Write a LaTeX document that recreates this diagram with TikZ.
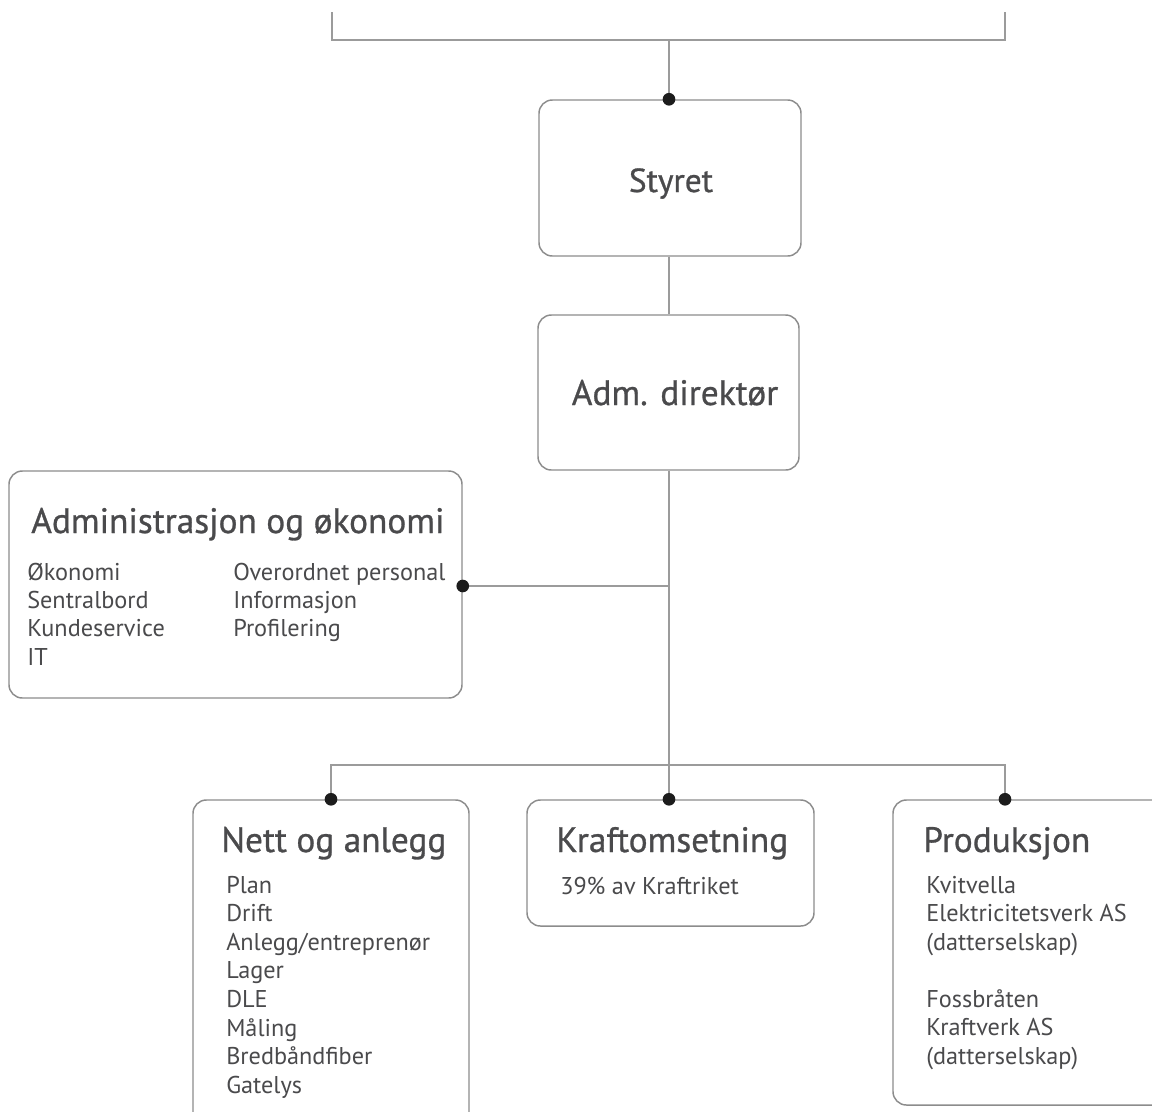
\documentclass[tikz,border=0pt]{standalone}
\usepackage{fontspec}
\setmainfont{PT Sans}
\newfontfamily\headfont{PT Sans}[FakeBold=0.8]
\usetikzlibrary{fit,calc}
\definecolor{linegray}{HTML}{9B9B9B}
\definecolor{boxgray}{HTML}{8C8C8C}
\definecolor{dotblack}{HTML}{1C1C1C}
\definecolor{txt}{HTML}{4A4A4C}
\begin{document}
\begin{tikzpicture}[x=0.75pt,y=-0.75pt,
  box/.style={draw=boxgray, line width=1.1pt, rounded corners=10pt, inner sep=0pt},
  conn/.style={draw=linegray, line width=1.1pt},
  dot/.style={circle, fill=dotblack, inner sep=0pt, minimum size=9.5pt},
  headtxt/.style={anchor=base, inner sep=0pt, font=\headfont\fontsize{25}{30}\selectfont, text=txt},
  title/.style={anchor=base west, inner sep=0pt, font=\headfont\fontsize{26.5}{32}\selectfont, text=txt},
  item/.style={anchor=base west, inner sep=0pt, font=\fontsize{18.2}{22}\selectfont, text=txt}]
\useasboundingbox (0,0) rectangle (1152,1111);
\clip (0,0) rectangle (1152,1111);
\fill[white] (0,0) rectangle (1152,1111);

% boxes
\node[box, fit={(539,100) (801,256)}] (styret) {};
\node[box, fit={(538,315) (799,470)}] (adm) {};
\node[box, fit={(9,471) (462,698)}] (admin) {};
\node[box, fit={(193,800) (469,1140)}] (nett) {};
\node[box, fit={(527,800) (814,926)}] (kraft) {};
\node[box, fit={(893,800) (1180,1105)}] (prod) {};

% texts
\node[headtxt] (tstyret) at (671,192) {Styret};
\node[headtxt, font=\headfont\fontsize{26.5}{32}\selectfont] (tadm) at (675,405) {Adm. direktør};
\node[title] (tadmin) at (31,533) {Administrasjon og økonomi};
\foreach \t [count=\i] in {Økonomi, Sentralbord, Kundeservice, IT}
  \node[item] (al\i) at (27,{580+28.4*(\i-1)}) {\t};
\foreach \t [count=\i] in {Overordnet personal, Informasjon, Profilering}
  \node[item] (ar\i) at (233,{580+28.4*(\i-1)}) {\t};
\node[title] (tnett) at (221,852) {Nett og anlegg};
\foreach \t [count=\i] in {Plan, Drift, Anlegg/entreprenør, Lager, DLE, Måling, Bredbåndfiber, Gatelys}
  \node[item] (n\i) at (226,{893+28.6*(\i-1)}) {\t};
\node[title] (tkraft) at (556,852) {Kraftomsetning};
\node[item] (k1) at (560,894) {39\% av Kraftriket};
\node[title] (tprod) at (923,852) {Produksjon};
\foreach \t [count=\i] in {Kvitvella, Elektricitetsverk AS, (datterselskap)}
  \node[item] (p\i) at (926,{893+28.5*(\i-1)}) {\t};
\foreach \t [count=\i] in {Fossbråten, Kraftverk AS, (datterselskap)}
  \node[item] (q\i) at (926,{1007+28.5*(\i-1)}) {\t};

% connectors
\coordinate (tl) at (332,12);
\coordinate (tr) at (1005,12);
\coordinate (tm) at (669,40);
\coordinate (jc) at (669,765);
\coordinate (ja) at (669,586);
\draw[conn] (tl) |- (tm) -| (tr);
\draw[conn] (tm) -- (styret.north -| tm);
\draw[conn] (styret.south -| tm) -- (adm.north -| tm);
\draw[conn] (adm.south -| tm) -- (jc);
\draw[conn] (ja) -- (ja -| admin.east);
\coordinate (jl) at (nett.north |- jc);
\coordinate (jr) at (1005,765);
\draw[conn] (nett.north) -- (jl) -- (jr) -- (prod.north -| jr);
\draw[conn] (jc) -- (kraft.north -| jc);
\node[dot] (d1) at (styret.north -| tm) {};
\node[dot] (d2) at (ja -| admin.east) {};
\node[dot] (d3) at (nett.north) {};
\node[dot] (d4) at (kraft.north -| jc) {};
\node[dot] (d5) at (prod.north -| jr) {};
\end{tikzpicture}
\end{document}
